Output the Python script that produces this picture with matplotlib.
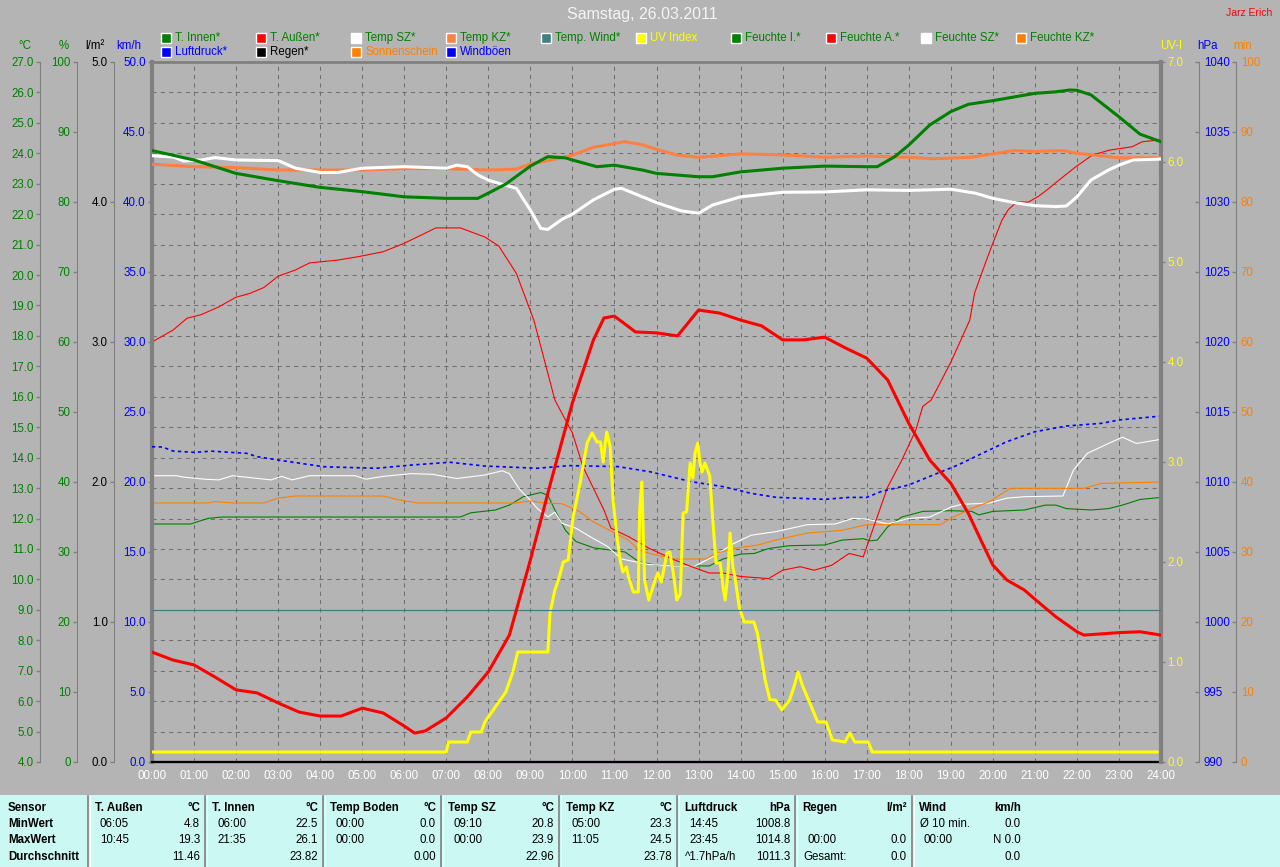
import matplotlib.pyplot as plt
import matplotlib.patches as mpatches
from matplotlib.ticker import FormatStrFormatter
import numpy as np

plt.rcParams['font.family'] = ['Liberation Sans', 'DejaVu Sans']

# --- Daten ---
# Temperaturen in °C
t_innen_zeit = ["00:00", "01:00", "02:00", "03:00", "04:00", "05:00", "06:00", "07:00", "07:45", "08:00",
                "08:25", "09:00", "09:25", "09:50", "10:00", "10:35", "11:00", "11:40", "12:00", "13:00",
                "13:20", "14:00", "15:00", "16:00", "17:00", "17:15", "17:40", "18:00", "18:30", "19:00",
                "19:25", "20:00", "21:00", "21:30", "21:50", "22:00", "22:20", "23:00", "23:30", "24:00"]
t_innen = [24.09, 23.78, 23.34, 23.10, 22.88, 22.74, 22.57, 22.52, 22.52, 22.69,
           22.99, 23.58, 23.89, 23.85, 23.78, 23.56, 23.61, 23.45, 23.34, 23.23,
           23.23, 23.39, 23.51, 23.58, 23.56, 23.56, 23.89, 24.27, 24.93, 25.37,
           25.61, 25.73, 25.97, 26.02, 26.08, 26.07, 25.92, 25.20, 24.63, 24.38]

t_aussen_zeit = ["00:00", "00:30", "01:00", "01:30", "02:00", "02:30", "03:00", "03:30", "04:00", "04:30",
                 "05:00", "05:30", "06:00", "06:15", "06:30", "07:00", "07:30", "08:00", "08:30", "09:00",
                 "09:30", "10:00", "10:30", "10:45", "11:00", "11:30", "12:00", "12:30", "13:00", "13:30",
                 "14:00", "14:30", "15:00", "15:30", "16:00", "16:30", "17:00", "17:30", "18:00", "18:30",
                 "19:00", "19:25", "19:45", "20:00", "20:20", "20:45", "21:00", "21:30", "22:00", "22:10",
                 "23:00", "23:30", "24:00"]
t_aussen = [7.61, 7.35, 7.19, 6.79, 6.37, 6.27, 5.94, 5.64, 5.51, 5.51,
            5.77, 5.61, 5.18, 4.95, 5.02, 5.45, 6.14, 6.96, 8.17, 10.64,
            13.27, 15.80, 17.87, 18.59, 18.65, 18.13, 18.10, 18.00, 18.85, 18.75,
            18.52, 18.33, 17.87, 17.87, 17.96, 17.60, 17.27, 16.55, 15.13, 13.92,
            13.16, 12.17, 11.19, 10.47, 9.98, 9.65, 9.35, 8.77, 8.28, 8.17,
            8.25, 8.28, 8.17]

temp_sz_zeit = ["00:00", "00:30", "00:45", "01:10", "01:30", "02:00", "03:00", "03:25", "04:00", "04:25",
                "05:00", "06:00", "07:00", "07:15", "07:30", "07:45", "08:00", "08:15", "08:40", "09:00",
                "09:15", "09:25", "09:45", "10:00", "10:30", "11:00", "11:10", "11:40", "12:00", "12:35",
                "13:00", "13:20", "14:00", "15:00", "16:00", "17:00", "18:00", "19:00", "19:35", "20:00",
                "20:30", "21:00", "21:30", "21:45", "22:00", "22:20", "22:45", "23:00", "23:20", "24:00"]
temp_sz = [23.92, 23.88, 23.75, 23.78, 23.86, 23.78, 23.76, 23.51, 23.37, 23.37,
           23.51, 23.56, 23.51, 23.61, 23.56, 23.29, 23.12, 23.01, 22.85, 22.13,
           21.53, 21.50, 21.83, 22.00, 22.47, 22.82, 22.85, 22.57, 22.38, 22.11,
           22.03, 22.30, 22.57, 22.72, 22.73, 22.80, 22.78, 22.82, 22.69, 22.52,
           22.38, 22.28, 22.25, 22.27, 22.57, 23.12, 23.45, 23.61, 23.78, 23.81]

temp_kz_zeit = ["00:00", "01:00", "02:00", "03:00", "04:00", "05:00", "06:00", "07:00", "08:00", "08:40",
                "09:00", "09:30", "10:00", "10:30", "11:15", "11:40", "12:00", "12:30", "13:00", "14:00",
                "15:00", "16:00", "17:00", "18:00", "18:35", "19:30", "20:00", "20:30", "21:00", "21:40",
                "22:00", "22:45", "23:00", "24:00"]
temp_kz = [23.64, 23.56, 23.53, 23.45, 23.45, 23.45, 23.50, 23.50, 23.45, 23.48,
           23.65, 23.78, 23.94, 24.20, 24.38, 24.28, 24.13, 23.94, 23.87, 23.98,
           23.95, 23.87, 23.91, 23.87, 23.82, 23.87, 23.98, 24.09, 24.06, 24.09,
           24.00, 23.89, 23.85, 23.85]

temp_wind_zeit = ["00:00", "24:00"]
temp_wind = [9.0, 9.0]

# Feuchte in %
f_innen_zeit = ["00:00", "00:55", "01:20", "01:40", "07:20", "07:35", "08:10", "08:30", "08:50", "09:15",
                "09:25", "09:35", "09:50", "10:05", "10:30", "11:00", "11:15", "11:35", "12:00", "13:15",
                "13:35", "14:00", "14:20", "14:40", "15:10", "16:00", "16:25", "16:55", "17:05", "17:15",
                "17:30", "17:50", "18:20", "19:00", "19:30", "19:40", "20:00", "20:45", "21:15", "21:30",
                "21:45", "22:20", "22:45", "23:05", "23:30", "24:00"]
f_innen = [34.0, 34.0, 34.8, 35.0, 35.0, 35.6, 36.0, 36.7, 37.9, 38.5,
           38.1, 36.0, 33.1, 31.5, 30.6, 30.2, 30.0, 28.6, 28.1, 28.0,
           29.0, 29.7, 29.8, 30.5, 30.9, 31.0, 31.7, 31.9, 31.6, 31.7,
           33.6, 35.0, 35.8, 35.9, 35.8, 35.3, 35.8, 36.0, 36.7, 36.7,
           36.2, 36.0, 36.2, 36.7, 37.5, 37.8]

f_aussen_zeit = ["00:00", "00:30", "00:50", "01:10", "01:35", "02:00", "02:20", "02:40", "03:00", "03:25",
                 "03:45", "04:25", "04:55", "05:30", "06:00", "06:35", "06:45", "07:20", "07:55", "08:15",
                 "08:40", "09:05", "09:35", "10:00", "10:15", "10:45", "10:55", "11:20", "11:50", "12:25",
                 "12:50", "13:15", "13:35", "14:00", "14:40", "15:00", "15:25", "15:45", "16:10", "16:35",
                 "16:55", "17:10", "17:30", "17:50", "18:10", "18:20", "18:32", "19:00", "19:27", "19:34",
                 "19:44", "19:58", "20:13", "20:22", "20:34", "20:51", "21:05", "21:17", "21:34", "21:58",
                 "22:22", "22:46", "23:19", "23:33", "24:00"]
f_aussen = [60.0, 61.7, 63.4, 63.9, 65.0, 66.4, 66.95, 67.8, 69.4, 70.3,
            71.3, 71.7, 72.2, 72.9, 74.1, 75.8, 76.3, 76.3, 75.0, 73.7,
            69.8, 63.1, 51.7, 47.0, 42.2, 36.0, 33.4, 32.2, 30.5, 28.9,
            27.9, 27.0, 27.0, 26.5, 26.2, 27.4, 27.9, 27.4, 28.1, 29.8,
            29.3, 33.6, 39.3, 43.1, 47.4, 50.8, 51.7, 57.1, 63.1, 67.0,
            69.8, 73.6, 77.4, 78.9, 80.0, 80.0, 80.8, 81.7, 83.1, 85.0,
            86.7, 87.4, 87.9, 88.6, 88.9]

f_sz_zeit = ["00:00", "00:35", "00:45", "01:15", "01:35", "01:55", "02:50", "03:05", "03:20", "03:45",
             "04:50", "05:05", "05:30", "06:10", "06:40", "07:15", "07:55", "08:20", "08:30", "08:45",
             "09:00", "09:10", "09:25", "09:35", "09:45", "10:05", "10:25", "10:50", "11:10", "11:50",
             "12:25", "12:55", "13:20", "13:50", "14:15", "14:50", "15:35", "16:15", "16:40", "17:00",
             "17:30", "18:00", "18:30", "19:00", "19:15", "19:55", "20:20", "20:45", "21:40", "21:55",
             "22:15", "22:45", "23:05", "23:25", "24:00"]
f_sz = [40.9, 40.9, 40.7, 40.4, 40.3, 40.9, 40.3, 40.8, 40.3, 40.9,
        40.9, 40.4, 40.8, 41.2, 41.1, 40.5, 41.0, 41.6, 41.2, 38.9,
        37.4, 36.2, 35.0, 35.7, 34.1, 33.4, 32.2, 30.8, 29.0, 28.2,
        28.0, 28.0, 29.3, 31.2, 32.4, 32.9, 33.9, 34.0, 34.8, 34.7,
        34.0, 34.8, 35.0, 36.4, 36.8, 37.0, 37.7, 37.9, 38.0, 41.7,
        44.1, 45.5, 46.4, 45.5, 46.1]

f_kz_zeit = ["00:00", "01:20", "01:30", "01:55", "02:40", "03:00", "03:25", "05:30", "05:50", "06:20",
             "08:40", "09:00", "09:20", "09:45", "10:10", "10:30", "10:55", "11:20", "11:35", "11:50",
             "12:25", "13:10", "13:25", "13:50", "14:25", "14:50", "15:35", "16:25", "17:00", "18:45",
             "19:00", "19:25", "19:55", "20:25", "22:10", "22:35", "24:00"]
f_kz = [37.0, 37.0, 37.2, 37.0, 37.0, 37.7, 38.0, 38.0, 37.5, 37.0,
        37.0, 37.3, 37.0, 36.9, 35.8, 34.3, 33.0, 31.7, 30.3, 29.8,
        29.0, 29.0, 29.8, 30.5, 31.0, 31.7, 32.7, 33.1, 33.9, 33.9,
        34.8, 36.0, 37.2, 39.1, 39.1, 39.8, 40.0]

# Luftdruck in hPa
druck_zeit = ["00:00", "00:15", "00:30", "01:00", "01:25", "02:15", "02:30", "03:00", "04:05", "05:20",
              "06:10", "07:05", "07:55", "09:10", "09:55", "11:05", "11:35", "11:50", "12:50", "13:35",
              "14:15", "14:50", "16:00", "16:35", "17:00", "17:20", "18:00", "18:35", "19:10", "19:45",
              "20:20", "21:00", "21:45", "22:35", "23:00", "24:00"]
druck = [1012.52, 1012.50, 1012.21, 1012.12, 1012.20, 1012.05, 1011.81, 1011.57, 1011.09, 1010.98,
         1011.21, 1011.41, 1011.14, 1010.98, 1011.17, 1011.10, 1010.86, 1010.74, 1010.02, 1009.67,
         1009.19, 1008.91, 1008.76, 1008.90, 1008.90, 1009.31, 1009.79, 1010.50, 1011.21, 1012.05,
         1012.88, 1013.59, 1014.00, 1014.19, 1014.43, 1014.71]

# UV-Index
uv_zeit = ["00:00", "07:00", "07:03", "07:30", "07:35", "07:50", "07:55", "08:05", "08:15", "08:25",
           "08:35", "08:42", "09:25", "09:28", "09:35", "09:40", "09:47", "09:54", "10:01", "10:11",
           "10:21", "10:28", "10:35", "10:40", "10:44", "10:47", "10:49", "10:54", "10:58", "11:03",
           "11:08", "11:12", "11:17", "11:20", "11:27", "11:34", "11:36", "11:39", "11:43", "11:49",
           "11:58", "12:02", "12:07", "12:15", "12:19", "12:24", "12:29", "12:34", "12:38", "12:43",
           "12:48", "12:52", "12:55", "12:59", "13:02", "13:05", "13:09", "13:16", "13:20", "13:25",
           "13:31", "13:35", "13:38", "13:42", "13:45", "13:49", "13:52", "13:58", "14:05", "14:19",
           "14:24", "14:28", "14:35", "14:42", "14:50", "14:59", "15:10", "15:17", "15:22", "15:28",
           "15:40", "15:50", "16:02", "16:11", "16:29", "16:36", "16:43", "17:02", "17:08", "24:00"]
uv = [0.1, 0.1, 0.2, 0.2, 0.3, 0.3, 0.4, 0.5, 0.6, 0.7,
      0.9, 1.1, 1.1, 1.49, 1.72, 1.82, 2.0, 2.02, 2.45, 2.79,
      3.19, 3.29, 3.2, 3.2, 3.0, 3.2, 3.3, 3.15, 2.62, 2.29,
      2.02, 1.9, 1.95, 1.85, 1.7, 1.7, 2.52, 2.8, 1.82, 1.62,
      1.82, 1.89, 1.8, 2.09, 2.1, 1.89, 1.62, 1.68, 2.49, 2.5,
      2.99, 2.84, 3.09, 3.19, 2.99, 2.9, 2.99, 2.86, 2.45, 1.99,
      1.99, 1.75, 1.62, 1.89, 2.29, 1.95, 1.85, 1.55, 1.4, 1.4,
      1.29, 1.12, 0.82, 0.62, 0.62, 0.52, 0.62, 0.77, 0.9, 0.77,
      0.57, 0.4, 0.4, 0.22, 0.2, 0.29, 0.2, 0.2, 0.1, 0.1]

null_zeit = ["00:00", "24:00"]
regen = [0.0, 0.0]
windboeen = [0.0, 0.0]
sonne = [0.0, 0.0]

# Tabelle unten
tab_kopf = [("T. Außen", "°C"), ("T. Innen", "°C"), ("Temp Boden", "°C"), ("Temp SZ", "°C"),
            ("Temp KZ", "°C"), ("Luftdruck", "hPa"), ("Regen", "l/m²"), ("Wind", "km/h")]
tab_min = [("06:05", "4.8"), ("06:00", "22.5"), ("00:00", "0.0"), ("09:10", "20.8"), ("05:00", "23.3"),
           ("14:45", "1008.8"), ("", ""), ("Ø 10 min.", "0.0")]
tab_max = [("10:45", "19.3"), ("21:35", "26.1"), ("00:00", "0.0"), ("00:00", "23.9"), ("11:05", "24.5"),
           ("23:45", "1014.8"), ("00:00", "0.0"), ("00:00", "N 0.0")]
tab_avg = [("", "11.46"), ("", "23.82"), ("", "0.00"), ("", "22.96"), ("", "23.78"),
           ("^1.7hPa/h", "1011.3"), ("Gesamt:", "0.0"), ("", "0.0")]


def hrs(zeiten):
    return [int(z[:2]) + int(z[3:]) / 60 for z in zeiten]


BG = '#B4B4B4'
GRID = '#707070'
SPINE = '#808080'
GREEN = '#008000'
RED = '#FF0000'
CORAL = '#FF8040'
TEAL = '#408080'
YELLOW = '#FFFF00'
BLUE = '#0000FF'
ORANGE = '#FF8000'

W, H = 1280, 867
fig = plt.figure(figsize=(12.8, 8.67), dpi=100, facecolor=BG)


def fx(px):
    return px / W


def fy(py):
    return 1 - py / H


L, R, T, B = 152, 1161, 62, 762
ax = fig.add_axes([fx(L), fy(B), (R - L) / W, (B - T) / H])
ax.set_facecolor(BG)
ax.set_zorder(0)
ax.set_xlim(0, 24)
ax.set_ylim(4, 27)
ax.set_xticks(range(25))
ax.set_xticklabels([f'{h:02d}:00' for h in range(25)], color='white', fontsize=8.3)
ax.tick_params(axis='x', length=0, pad=6)
ax.set_yticks(np.arange(4, 28, 1))
ax.yaxis.set_major_formatter(FormatStrFormatter('%.1f'))
ax.tick_params(axis='y', colors=SPINE, labelcolor=GREEN, labelsize=8.3, length=3, width=1, pad=1.5)
ax.grid(True, color=GRID, ls=(0, (4, 4)), lw=0.75)
ax.spines['left'].set_position(('axes', (40 - L) / (R - L)))
ax.spines['left'].set_color(SPINE)
ax.spines['top'].set_color(SPINE)
ax.spines['top'].set_linewidth(2)
ax.spines['right'].set_visible(False)
ax.spines['bottom'].set_visible(False)


def twin(lo, hi, z, side=None, xpos=0.0, ticks=None, fmt='%d', color='k', direction='out', pad=1.5):
    tw = ax.twinx()
    tw.set_ylim(lo, hi)
    tw.set_zorder(z)
    tw.patch.set_visible(False)
    for s in tw.spines.values():
        s.set_visible(False)
    if side is None:
        tw.set_yticks([])
        return tw
    sp = tw.spines[side]
    sp.set_visible(True)
    sp.set_position(('axes', xpos))
    sp.set_color(SPINE)
    tw.yaxis.set_ticks_position(side)
    tw.set_yticks(ticks)
    tw.yaxis.set_major_formatter(FormatStrFormatter(fmt))
    tw.tick_params(axis='y', colors=SPINE, labelcolor=color, labelsize=8.3, length=3, width=1,
                   direction=direction, pad=pad)
    return tw


ax_hum = twin(0, 100, 1, 'left', (77 - L) / (R - L), np.arange(0, 101, 10), '%d', GREEN)
ax_kmh = twin(0, 50, 2, 'left', 0.0, np.arange(0, 51, 5), '%.1f', BLUE)
ax_kmh.spines['left'].set_linewidth(3)
ax_rain = twin(0, 5, 2.5, 'left', (114 - L) / (R - L), np.arange(0, 6, 1), '%.1f', 'black')
ax_uv = twin(0, 7, 3, 'right', 1.0, np.arange(0, 8, 1), '%.1f', YELLOW)
ax_uv.spines['right'].set_linewidth(3)
ax_hpa = twin(990, 1040, 2, 'right', (1199 - L) / (R - L), np.arange(990, 1041, 5), '%d', BLUE,
              direction='in', pad=3.5)
ax_min = twin(0, 100, 1, 'right', (1236 - L) / (R - L), np.arange(0, 101, 10), '%d', ORANGE,
              direction='in', pad=3.5)
ax_temp = twin(4, 27, 5)

# Feuchte (dünn)
ax_hum.plot(hrs(f_innen_zeit), f_innen, color=GREEN, lw=0.8)
ax_hum.plot(hrs(f_sz_zeit), f_sz, color='white', lw=0.8)
ax_hum.plot(hrs(f_kz_zeit), f_kz, color=ORANGE, lw=0.8)
ax_hum.plot(hrs(f_aussen_zeit), f_aussen, color=RED, lw=0.8)

# Luftdruck
ax_hpa.plot(hrs(druck_zeit), druck, color=BLUE, lw=1.2, ls=(0, (2, 2)))

# Nullreihen
ax_min.plot(hrs(null_zeit), sonne, color=ORANGE, lw=1.5, clip_on=False)
ax_kmh.plot(hrs(null_zeit), windboeen, color=BLUE, lw=1.5, clip_on=False)
ax_rain.plot(hrs(null_zeit), regen, color='black', lw=1.6, clip_on=False)

# UV
ax_uv.plot(hrs(uv_zeit), uv, color=YELLOW, lw=2.2)

# Temperaturen
ax_temp.plot(hrs(temp_wind_zeit), temp_wind, color=TEAL, lw=0.9)
ax_temp.plot(hrs(temp_kz_zeit), temp_kz, color=CORAL, lw=2.2)
ax_temp.plot(hrs(temp_sz_zeit), temp_sz, color='white', lw=2.2)
ax_temp.plot(hrs(t_innen_zeit), t_innen, color=GREEN, lw=2.2)
ax_temp.plot(hrs(t_aussen_zeit), t_aussen, color=RED, lw=2.2)

# Einheiten über den Achsen
for x, txt, c in [(25, '°C', GREEN), (64, '%', GREEN), (95, 'l/m²', 'black'), (129, 'km/h', BLUE),
                  (1171, 'UV-I', YELLOW), (1208, 'hPa', BLUE), (1243, 'min', ORANGE)]:
    fig.text(fx(x), fy(46), txt, color=c, fontsize=8.3, ha='center', va='center')

# Titel
fig.text(fx(567), fy(15), 'Samstag, 26.03.2011', color='#F4F4F4', fontsize=11.5, va='center')
fig.text(fx(1226), fy(13), 'Jarz Erich', color=RED, fontsize=7.5, va='center')

# Legende
legende = [
    (161, 38, GREEN, 'T. Innen*', GREEN), (256, 38, RED, 'T. Außen*', GREEN),
    (351, 38, 'white', 'Temp SZ*', GREEN), (446, 38, CORAL, 'Temp KZ*', GREEN),
    (541, 38, TEAL, 'Temp. Wind*', GREEN), (636, 38, YELLOW, 'UV Index', YELLOW),
    (731, 38, GREEN, 'Feuchte I.*', GREEN), (826, 38, RED, 'Feuchte A.*', GREEN),
    (921, 38, 'white', 'Feuchte SZ*', GREEN), (1016, 38, ORANGE, 'Feuchte KZ*', GREEN),
    (161, 52, BLUE, 'Luftdruck*', BLUE), (256, 52, 'black', 'Regen*', 'black'),
    (351, 52, ORANGE, 'Sonnenschein', ORANGE), (446, 52, BLUE, 'Windböen', BLUE),
]
for x, y, fc, txt, tc in legende:
    fig.patches.append(mpatches.Rectangle((fx(x), fy(y + 5)), 10 / W, 10 / H, facecolor=fc,
                                          edgecolor='white', lw=1, transform=fig.transFigure))
    fig.text(fx(x + 14), fy(y), txt, color=tc, fontsize=8.3, va='center')

# Tabelle
fig.patches.append(mpatches.Rectangle((0, 0), 1, (H - 795) / H, facecolor='#CCF8F4',
                                      edgecolor='none', transform=fig.transFigure))
seps = [88, 205, 323, 441, 559, 677, 795, 912]
rechts = [s - 5 for s in seps[1:]] + [1021]
zeilen_y = [808, 824, 840, 857]
for s in seps:
    fig.add_artist(plt.Line2D([fx(s), fx(s)], [fy(796), 0], color=SPINE, lw=1.2))
    fig.add_artist(plt.Line2D([fx(s + 1.5), fx(s + 1.5)], [fy(796), 0], color='white', lw=0.8))
for txt, y in zip(['Sensor', 'MinWert', 'MaxWert', 'Durchschnitt'], zeilen_y):
    fig.text(fx(8), fy(y), txt, fontsize=8.3, fontweight='bold', va='center')
for i, (name, einheit) in enumerate(tab_kopf):
    fig.text(fx(seps[i] + 7), fy(zeilen_y[0]), name, fontsize=8.3, fontweight='bold', va='center')
    fig.text(fx(rechts[i]), fy(zeilen_y[0]), einheit, fontsize=8.3, fontweight='bold', va='center', ha='right')
    for zeile, y in zip([tab_min, tab_max, tab_avg], zeilen_y[1:]):
        links, wert = zeile[i]
        off = 12 if links[:1].isdigit() else 8
        fig.text(fx(seps[i] + off), fy(y), links, fontsize=8.3, va='center')
        fig.text(fx(rechts[i]), fy(y), wert, fontsize=8.3, va='center', ha='right')

fig.savefig('out.png', dpi=100, facecolor=BG)
